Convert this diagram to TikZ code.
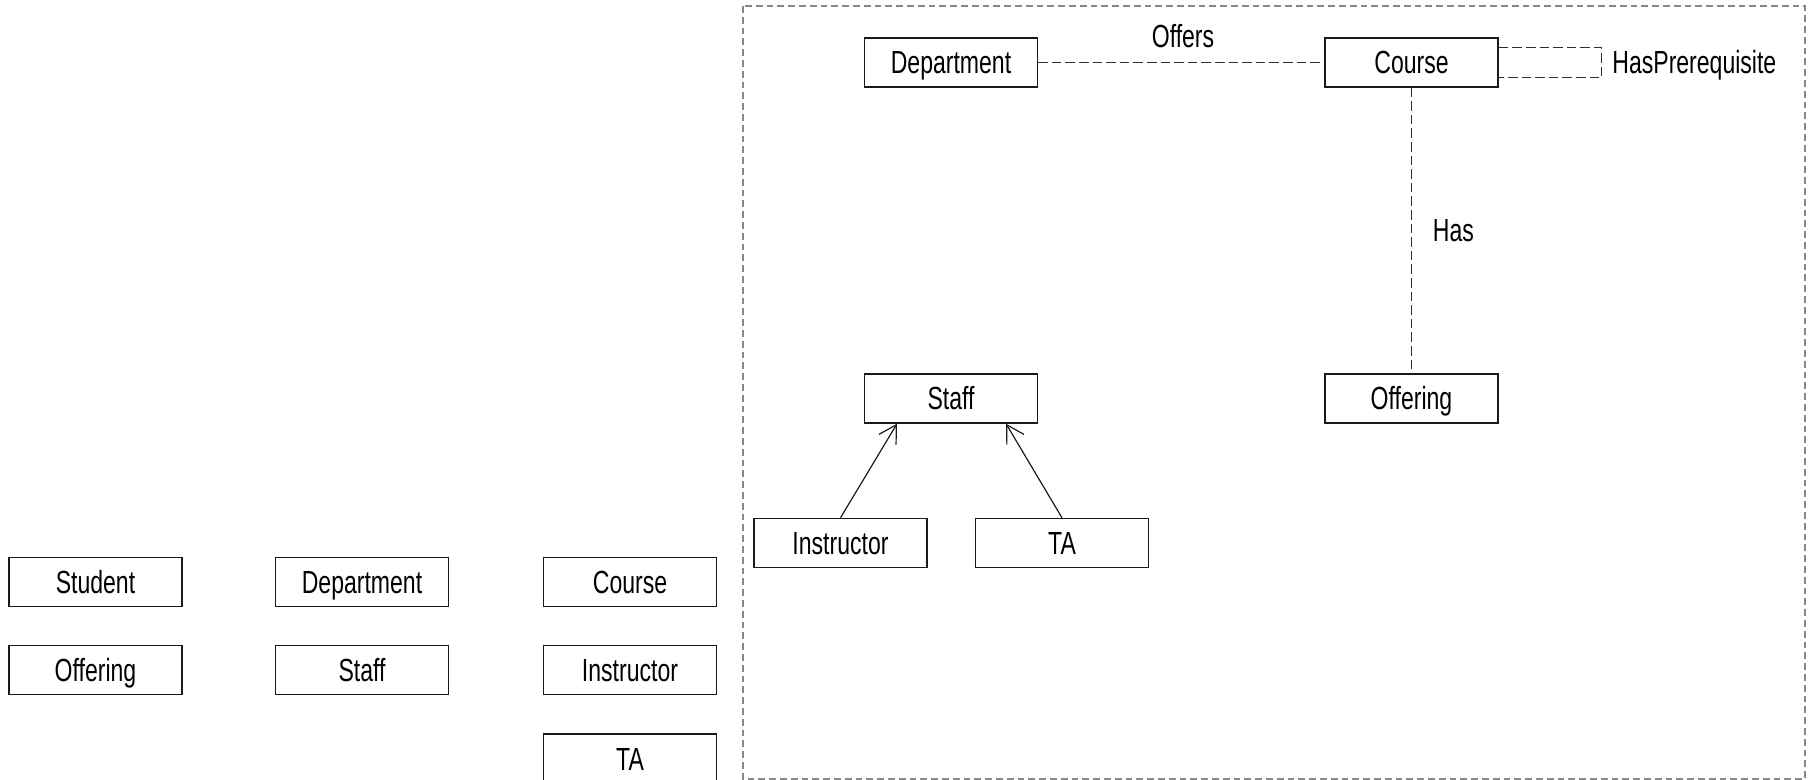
\documentclass[tikz,border=0pt]{standalone}
\usepackage{fontspec}
\setmainfont{Liberation Sans}[FakeStretch=0.72]
\usetikzlibrary{arrows.meta}
\definecolor{edgeink}{HTML}{1A1A1A}
\definecolor{relink}{HTML}{2E2E2E}
\definecolor{frameink}{HTML}{888888}
\begin{document}
\begin{tikzpicture}[x=0.5pt,y=-0.5pt,
  every node/.style={font=\fontsize{16pt}{19pt}\selectfont, text=black},
  ent/.style={draw=edgeink, line width=0.7pt, fill=white, minimum width=86.5pt,
    minimum height=24.5pt, inner sep=0pt, text height=11.5pt, text depth=0pt},
  lbl/.style={inner sep=0pt, text height=11.5pt, text depth=0pt},
  rel/.style={draw=relink, line width=0.7pt, dash pattern=on 4.8pt off 2pt},
  isa/.style={draw=edgeink, line width=0.6pt, -{Straight Barb[angle=60:10pt]}},
  frame/.style={draw=frameink, line width=1.1pt, dash pattern=on 3.4pt off 2pt}]
\useasboundingbox (0,0) rectangle (1810,780);

% package frame
\draw[frame] (743,6) rectangle (1805,779);

% entities inside the package
\node[ent] (dept)     at (951,62.5)    {Department};
\node[ent] (course)   at (1411.5,62.5) {Course};
\node[ent] (offering) at (1411.5,398.5) {Offering};
\node[ent] (staff)    at (951,398.5)   {Staff};
\node[ent] (instr)    at (840.5,543)   {Instructor};
\node[ent] (ta)       at (1062,543)    {TA};

% relationships
\draw[rel] (dept) -- (course);
\draw[rel] (course) -- (offering);
\draw[rel] ([yshift=-5pt]course.north east) -| ([xshift=51.5pt,yshift=5pt]course.south east)
  -- ([yshift=5pt]course.south east);
\node[lbl] (offers) at (1183,36) {Offers};
\node[lbl, anchor=west] (has) at (1432.5,230) {Has};
\node[lbl, anchor=west] (prereq) at (1612,62.5) {HasPrerequisite};

% generalisation
\draw[isa] (instr.north) -- ([xshift=-27pt]staff.south);
\draw[isa] (ta.north) -- ([xshift=27.5pt]staff.south);

% entity list
\node[ent] (lstudent)  at (95.5,582)  {Student};
\node[ent] (ldept)     at (362,582)   {Department};
\node[ent] (lcourse)   at (630,582)   {Course};
\node[ent] (loffering) at (95.5,670)  {Offering};
\node[ent] (lstaff)    at (362,670)   {Staff};
\node[ent] (linstr)    at (630,670)   {Instructor};
\node[ent] (lta)       at (630,758.5) {TA};
\end{tikzpicture}
\end{document}
